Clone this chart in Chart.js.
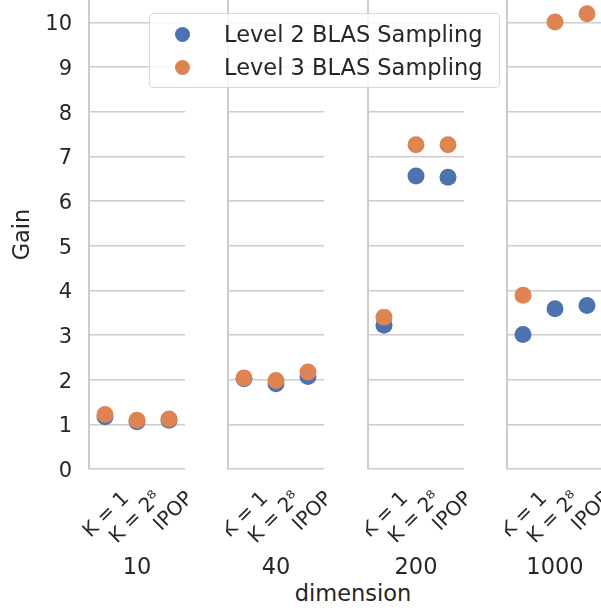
<!DOCTYPE html>
<html>
<head>
<meta charset="utf-8">
<script src="https://cdn.jsdelivr.net/npm/chart.js@4"></script>
<style>
  body { margin: 0; width: 601px; height: 610px; overflow: hidden; background: #fff; position: relative;
         font-family: "DejaVu Sans", sans-serif; color: #262626; }
  canvas { position: absolute; top: 0; }
  #legend { position: absolute; left: 149px; top: 13px; width: 349px; height: 73px; border: 1px solid #d9d9d9;
            border-radius: 4px; background: rgba(255,255,255,0.8); z-index: 5; }
  #legend .item { position: absolute; left: 0; height: 30px; line-height: 30px; font-size: 22.5px; white-space: nowrap; }
  #legend .dot { position: absolute; left: 25px; top: 7.5px; width: 15px; height: 15px; border-radius: 50%; }
  #legend .txt { position: absolute; left: 74px; top: 0; }
  #xlabel { position: absolute; left: 353px; top: 580px; transform: translateX(-50%); font-size: 22.5px; line-height: 27px; white-space: nowrap; }
</style>
</head>
<body>
<div id="legend"></div>
<div id="xlabel">dimension</div>
<script>
const dimensions = ['10', '40', '200', '1000'];
const methods = ['K = 1', 'K = 2⁸', 'IPOP'];
const seriesNames = ['Level 2 BLAS Sampling', 'Level 3 BLAS Sampling'];
// gain per dimension, in order K = 1, K = 2^8, IPOP
const level2 = [
  [1.17, 1.06, 1.09],
  [2.02, 1.91, 2.07],
  [3.22, 6.56, 6.53],
  [3.01, 3.59, 3.66]
];
const level3 = [
  [1.22, 1.09, 1.12],
  [2.04, 1.98, 2.17],
  [3.40, 7.26, 7.26],
  [3.89, 10.01, 10.19]
];
const yTicks = [0, 1, 2, 3, 4, 5, 6, 7, 8, 9, 10];

const ink = '#262626';
const family = 'DejaVu Sans';
const colors = ['#4c72b0', '#dd8452'];
const values = [level2, level3];

const panelLeft = [89, 228, 368, 507];
const plotW = 96, plotH = 469, H = 610, padR = 24;

dimensions.forEach((dim, i) => {
  const first = i === 0;
  const yw = first ? 89 : 2;
  const cv = document.createElement('canvas');
  cv.width = yw + plotW + padR;
  cv.height = H;
  cv.style.left = (panelLeft[i] - yw) + 'px';
  document.body.appendChild(cv);

  new Chart(cv, {
    type: 'line',
    data: {
      labels: methods,
      datasets: seriesNames.map((name, k) => ({
        label: name,
        data: values[k][i],
        showLine: false,
        pointRadius: 8.5,
        pointHoverRadius: 8.5,
        pointBorderWidth: 0,
        backgroundColor: colors[k],
        borderColor: colors[k],
        order: seriesNames.length - k
      }))
    },
    options: {
      responsive: false,
      animation: false,
      events: [],
      layout: { autoPadding: false, padding: { left: 0, right: padR, top: 0, bottom: 0 } },
      plugins: { legend: { display: false }, tooltip: { enabled: false } },
      scales: {
        x: {
          type: 'category',
          offset: true,
          grid: { display: false, drawTicks: false },
          border: { display: false },
          ticks: { autoSkip: false, minRotation: 45, maxRotation: 45, padding: 18, labelOffset: 21,
                   color: ink, font: { family, size: 20 } },
          title: { display: true, text: dim, color: ink, font: { family, size: 22.5 },
                   padding: { top: 0, bottom: 28.5 } },
          afterFit: s => { s.height = H - plotH; s.paddingLeft = 0; s.paddingRight = 0; }
        },
        y: {
          min: 0,
          max: 10.5,
          grid: { color: '#cccccc', lineWidth: 1.6, drawTicks: false },
          border: { display: true, color: '#cccccc', width: 2 },
          afterBuildTicks: s => { s.ticks = yTicks.map(v => ({ value: v })); },
          ticks: { display: first, padding: 17, labelOffset: 2.5, color: ink, font: { family, size: 21 } },
          title: { display: first, text: 'Gain', color: ink, font: { family, size: 22.5 },
                   padding: { top: 9.5, bottom: 0 } },
          afterFit: s => { s.width = yw; s.paddingTop = 0; s.paddingBottom = 0; }
        }
      }
    }
  });
});

const legend = document.getElementById('legend');
seriesNames.forEach((name, k) => {
  const item = document.createElement('div');
  item.className = 'item';
  item.style.top = (5 + k * 33.4) + 'px';
  item.innerHTML = `<span class="dot" style="background:${colors[k]}"></span><span class="txt">${name}</span>`;
  legend.appendChild(item);
});
</script>
</body>
</html>
